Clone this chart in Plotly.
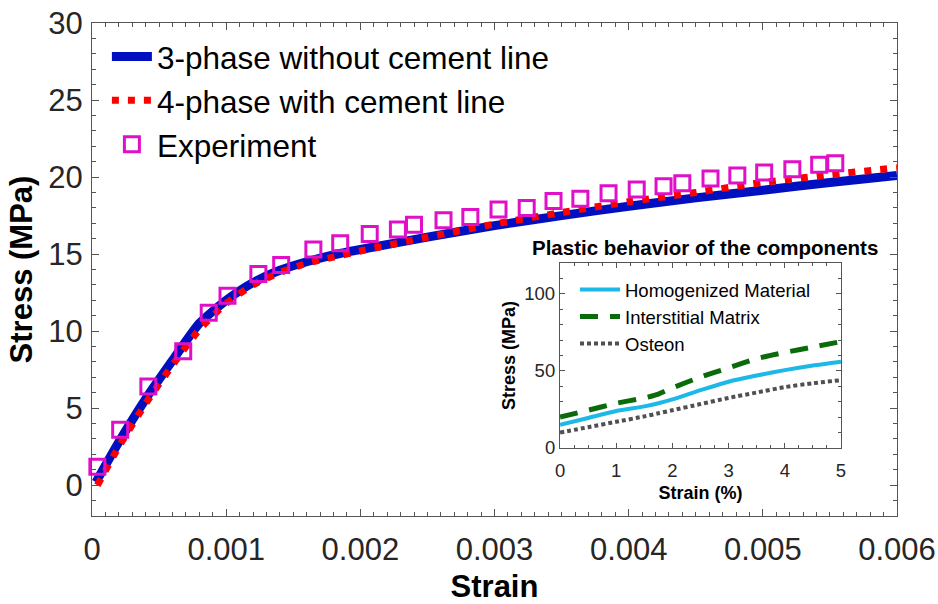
import plotly.graph_objects as go

# ---- main chart data ----
strain_3ph = [0.00003, 0.0002, 0.0004, 0.0006, 0.0008, 0.001, 0.0012, 0.0014, 0.0016, 0.0018,
              0.002, 0.0025, 0.003, 0.0035, 0.004, 0.0045, 0.005, 0.0055, 0.006]
stress_3ph = [0.2, 2.8, 5.6, 8.1, 10.5, 12.0, 13.15, 13.95, 14.5, 14.95,
              15.3, 16.1, 16.85, 17.5, 18.1, 18.65, 19.15, 19.65, 20.1]

strain_4ph = [0.00004, 0.0002, 0.0004, 0.0006, 0.0008, 0.001, 0.0012, 0.0014, 0.0016, 0.0018,
              0.002, 0.0025, 0.003, 0.0035, 0.004, 0.0045, 0.005, 0.0055, 0.006]
stress_4ph = [0.0, 2.5, 5.3, 7.8, 10.1, 11.8, 13.0, 13.8, 14.4, 14.8,
              15.2, 16.1, 16.95, 17.7, 18.4, 19.0, 19.65, 20.15, 20.6]

strain_exp = [0.00004, 0.00021, 0.00042, 0.00068, 0.00087, 0.00101, 0.00124, 0.00141, 0.00165, 0.00185,
              0.00207, 0.00228, 0.0024, 0.00262, 0.00282, 0.00303, 0.00324, 0.00344, 0.00364, 0.00385,
              0.00406, 0.00426, 0.0044, 0.00461, 0.00481, 0.00501, 0.00522, 0.00542, 0.00554]
stress_exp = [1.2, 3.6, 6.4, 8.7, 11.2, 12.3, 13.7, 14.3, 15.3, 15.7,
              16.3, 16.6, 16.9, 17.2, 17.4, 17.9, 18.0, 18.45, 18.6, 18.95,
              19.2, 19.4, 19.6, 19.9, 20.1, 20.3, 20.5, 20.8, 20.9]

x_tick_vals = [0, 0.001, 0.002, 0.003, 0.004, 0.005, 0.006]
x_tick_text = ["0", "0.001", "0.002", "0.003", "0.004", "0.005", "0.006"]
y_tick_vals = [0, 5, 10, 15, 20, 25, 30]
y_tick_text = ["0", "5", "10", "15", "20", "25", "30"]

# ---- inset data ----
inset_strain = [0, 0.5, 1, 1.5, 1.75, 2, 2.5, 3, 3.5, 4, 4.5, 5]
homogenized = [15, 19.5, 24, 27, 29, 31.5, 37.5, 43, 47, 50.5, 53.5, 56]
interstitial = [20, 24.5, 29, 32.5, 35, 39, 46, 52, 58, 62, 65.5, 69]
osteon = [10, 13.5, 17, 20.5, 22.5, 24.5, 28.5, 32.5, 36, 39.5, 42, 44]

inset_x_ticks = [0, 1, 2, 3, 4, 5]
inset_x_text = ["0", "1", "2", "3", "4", "5"]
inset_y_ticks = [0, 50, 100]
inset_y_text = ["0", "50", "100"]

FONT = "Liberation Sans, Arial, sans-serif"
AXC = "#555555"
TXC = "#262626"

fig = go.Figure()

fig.add_trace(go.Scatter(
    x=strain_3ph, y=stress_3ph, mode="lines", name="3-phase without cement line",
    line=dict(color="#0010C0", width=9, shape="spline", smoothing=0.6),
    legend="legend", xaxis="x", yaxis="y"))
fig.add_trace(go.Scatter(
    x=strain_4ph, y=stress_4ph, mode="lines", name="4-phase with cement line",
    line=dict(color="#FF0000", width=7, dash="7px,9px", shape="spline", smoothing=0.6),
    legend="legend", xaxis="x", yaxis="y"))
fig.add_trace(go.Scatter(
    x=strain_exp, y=stress_exp, mode="markers", name="Experiment", cliponaxis=False,
    marker=dict(symbol="square-open", size=15, color="#E010C8", line=dict(width=3, color="#E010C8")),
    legend="legend", xaxis="x", yaxis="y"))

fig.add_trace(go.Scatter(
    x=inset_strain, y=homogenized, mode="lines", name="Homogenized Material",
    line=dict(color="#1CB8E8", width=4, shape="spline", smoothing=0.6),
    legend="legend2", xaxis="x2", yaxis="y2"))
fig.add_trace(go.Scatter(
    x=inset_strain, y=interstitial, mode="lines", name="Interstitial Matrix",
    line=dict(color="#0B6B0B", width=5, dash="18px,12px", shape="spline", smoothing=0.6),
    legend="legend2", xaxis="x2", yaxis="y2"))
fig.add_trace(go.Scatter(
    x=inset_strain, y=osteon, mode="lines", name="Osteon",
    line=dict(color="#505050", width=4, dash="4px,3px", shape="spline", smoothing=0.6),
    legend="legend2", xaxis="x2", yaxis="y2"))

common_axis = dict(showline=True, linecolor=AXC, linewidth=1.3, mirror="allticks",
                   ticks="inside", tickcolor=AXC, tickwidth=1, showgrid=False, zeroline=False,
                   automargin=False)

fig.update_layout(
    width=938, height=604,
    margin=dict(l=92, r=41, t=23, b=88),
    paper_bgcolor="white", plot_bgcolor="white",
    font=dict(family=FONT, color=TXC),
    showlegend=True,
    xaxis=dict(domain=[0, 1], range=[0, 0.006], tickvals=x_tick_vals, ticktext=x_tick_text,
               ticklen=7, tickfont=dict(size=31, color=TXC), ticklabelstandoff=6,
               minor=dict(ticks="inside", ticklen=4, dtick=0.0001, tickcolor=AXC),
               title=dict(text="<b>Strain</b>", font=dict(size=31, color="black"), standoff=10),
               **common_axis),
    yaxis=dict(domain=[0, 1], range=[-2, 30], tickvals=y_tick_vals, ticktext=y_tick_text,
               ticklen=7, tickfont=dict(size=31, color=TXC), ticklabelstandoff=2,
               minor=dict(ticks="inside", ticklen=4, dtick=1, tickcolor=AXC),
               title=dict(text="<b>Stress (MPa)</b>", font=dict(size=31, color="black"), standoff=6),
               **common_axis),
    xaxis2=dict(domain=[0.5814, 0.9304], anchor="y2", range=[0, 5], tickvals=inset_x_ticks,
                ticktext=inset_x_text, ticklen=5, tickfont=dict(size=18.5, color=TXC),
                ticklabelstandoff=6,
                minor=dict(ticks="inside", ticklen=3, dtick=0.25, tickcolor=AXC),
                title=dict(text="<b>Strain (%)</b>", font=dict(size=18, color="black"), standoff=6),
                **common_axis),
    yaxis2=dict(domain=[0.1379, 0.5132], anchor="x2", range=[0, 120], tickvals=inset_y_ticks,
                ticktext=inset_y_text, ticklen=5, tickfont=dict(size=18.5, color=TXC),
                minor=dict(ticks="inside", ticklen=3, dtick=10, tickcolor=AXC),
                title=dict(text="<b>Stress (MPa)</b>", font=dict(size=18, color="black"), standoff=3),
                **common_axis),
    legend=dict(x=0.0185, y=0.987, xanchor="left", yanchor="top", bgcolor="rgba(0,0,0,0)",
                font=dict(size=31.5, color="black"), itemwidth=40, tracegroupgap=0),
    legend2=dict(x=0.6, y=0.497, xanchor="left", yanchor="top", bgcolor="rgba(0,0,0,0)",
                 font=dict(size=18.5, color="black"), itemwidth=40, tracegroupgap=0),
    annotations=[dict(text="<b>Plastic behavior of the components</b>", xref="paper", yref="paper",
                      x=(0.5814 + 0.9304) / 2 + 0.006, y=0.5132 + 0.005, xanchor="center",
                      yanchor="bottom", showarrow=False, font=dict(size=20.5, color="black"))],
)

fig.write_html("out.html")
